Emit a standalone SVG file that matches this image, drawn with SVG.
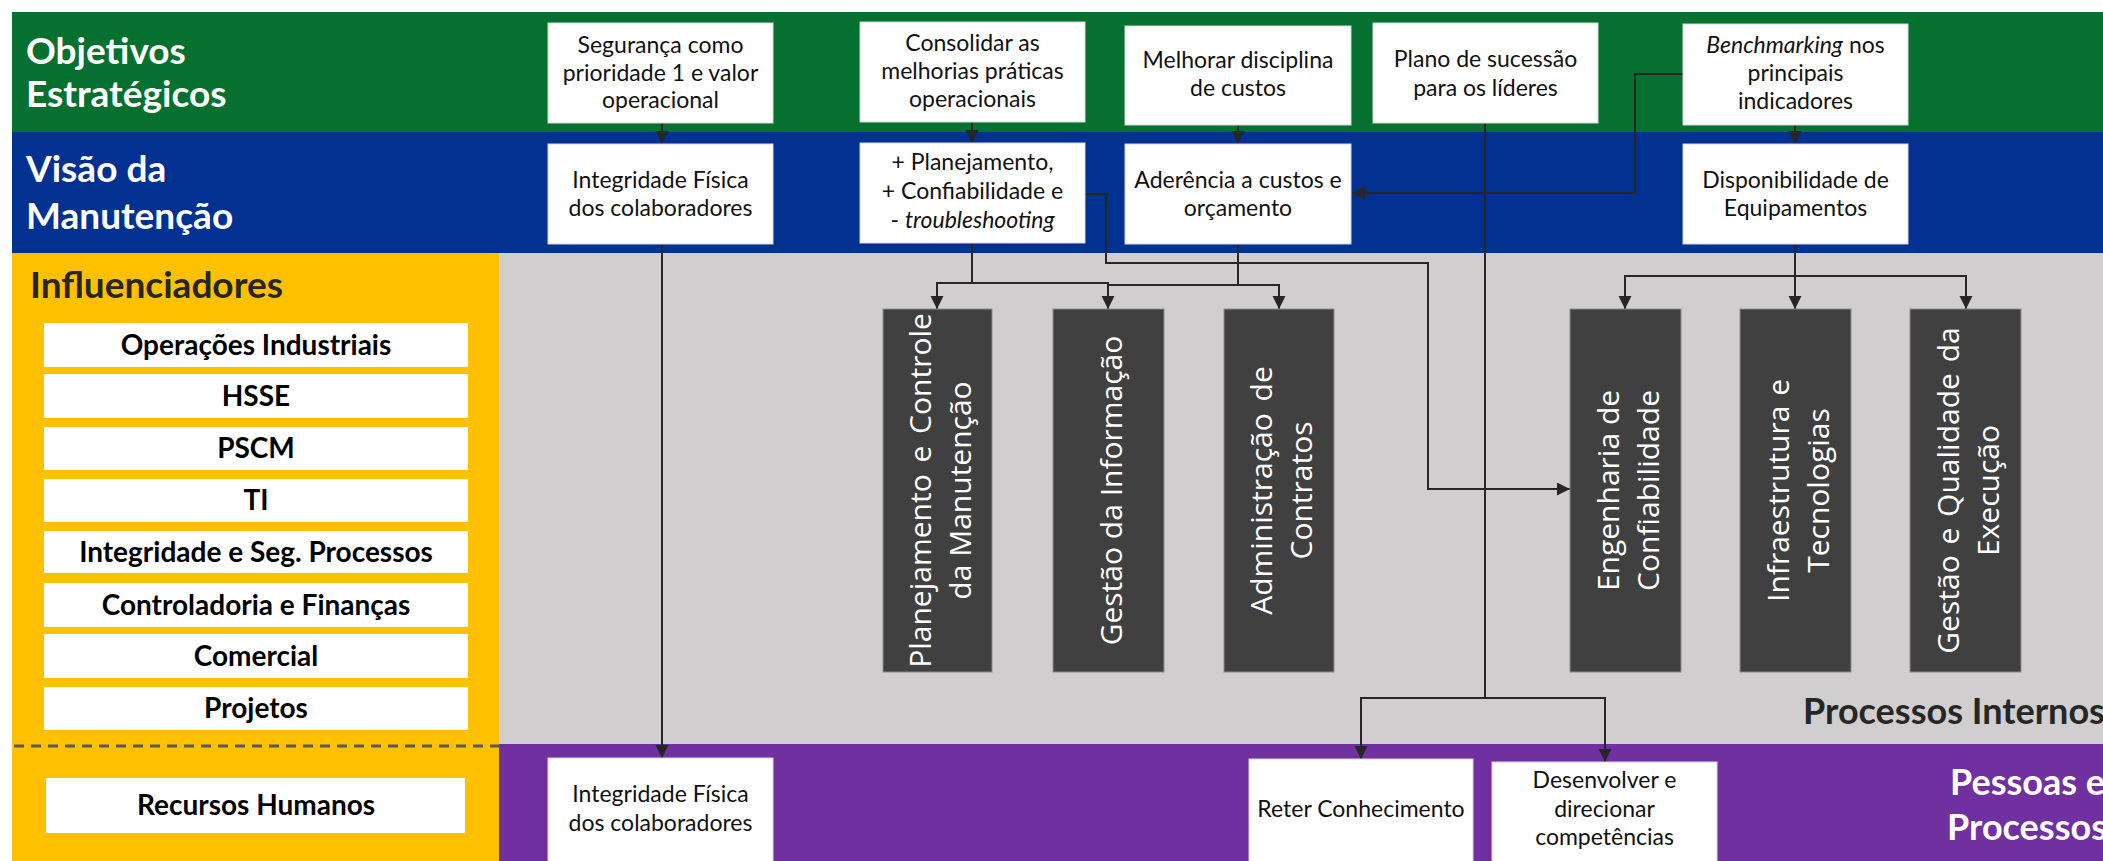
<svg xmlns="http://www.w3.org/2000/svg" width="2103" height="861" viewBox="0 0 2103 861">
<defs>
<marker id="ah" markerUnits="userSpaceOnUse" markerWidth="14" markerHeight="14" refX="13" refY="6.5" orient="auto"><path d="M0,0 L13,6.5 L0,13 z" fill="#262626"/></marker>
<style>
.bx{fill:#fff;stroke:#d6d6d6;stroke-width:1}
.t{font-family:Lato,"Liberation Sans",sans-serif;font-size:23px;fill:#111;text-anchor:middle}
.inf{font-family:Lato,"Liberation Sans",sans-serif;font-weight:700;font-size:28px;fill:#000;text-anchor:middle}
.ttl{font-family:Lato,"Liberation Sans",sans-serif;font-weight:700;font-size:37px;fill:#fff}
.dk{fill:#262626}
.proc{fill:#404040;stroke:#8c8c8c;stroke-width:1}
.pt{font-family:"Open Sans","Noto Sans",sans-serif;font-size:30px;fill:#fff;text-anchor:middle;dominant-baseline:central}
.cn{fill:none;stroke:#262626;stroke-width:2}
.ar{marker-end:url(#ah)}
</style>
</defs>
<rect width="2103" height="861" fill="#fff"/>
<g id="bands">
<rect x="12" y="12" width="2091" height="120" fill="#05702F"/>
<rect x="12" y="132" width="2091" height="121" fill="#023191"/>
<rect x="12" y="253" width="487" height="608" fill="#FFC000"/>
<rect x="499" y="253" width="1604" height="491" fill="#D0CECE"/>
<rect x="499" y="744" width="1604" height="117" fill="#7030A0"/>
<line x1="14" y1="746" x2="499" y2="746" stroke="#595959" stroke-width="3" stroke-dasharray="10,7"/>
<text class="ttl" x="26" y="64">Objetivos</text>
<text class="ttl" x="26" y="107">Estratégicos</text>
<text class="ttl" x="26" y="182">Visão da</text>
<text class="ttl" x="26" y="229">Manutenção</text>
<text class="ttl dk" x="30" y="298">Influenciadores</text>
<text class="ttl dk" x="1803" y="724" style="font-size:36px">Processos Internos</text>
<text class="ttl" x="1950" y="795" style="font-size:36px">Pessoas e</text>
<text class="ttl" x="1947" y="840" style="font-size:36px">Processos</text>
</g>
<g id="influenciadores">
<g id="inf1"><rect x="44" y="323" width="424" height="44" fill="#fff"/><text class="inf" x="256" y="355">Operações Industriais</text></g>
<g id="inf2"><rect x="44" y="374" width="424" height="44" fill="#fff"/><text class="inf" x="256" y="406">HSSE</text></g>
<g id="inf3"><rect x="44" y="427" width="424" height="43" fill="#fff"/><text class="inf" x="256" y="458">PSCM</text></g>
<g id="inf4"><rect x="44" y="479" width="424" height="43" fill="#fff"/><text class="inf" x="256" y="510">TI</text></g>
<g id="inf5"><rect x="44" y="531" width="424" height="42" fill="#fff"/><text class="inf" x="256" y="562">Integridade e Seg. Processos</text></g>
<g id="inf6"><rect x="44" y="583" width="424" height="44" fill="#fff"/><text class="inf" x="256" y="615">Controladoria e Finanças</text></g>
<g id="inf7"><rect x="44" y="634" width="424" height="44" fill="#fff"/><text class="inf" x="256" y="666">Comercial</text></g>
<g id="inf8"><rect x="44" y="687" width="424" height="43" fill="#fff"/><text class="inf" x="256" y="718">Projetos</text></g>
<g id="inf9"><rect x="46" y="778" width="419" height="55" fill="#fff"/><text class="inf" x="256" y="815">Recursos Humanos</text></g>
</g>
<g id="connectors">
<path class="cn ar" d="M662,123 V144"/>
<path class="cn ar" d="M972,122 V143"/>
<path class="cn ar" d="M1238,125 V144"/>
<path class="cn ar" d="M1795,125 V144"/>
<path class="cn ar" d="M1683,74 H1635 V193 H1352"/>
<path class="cn ar" d="M662,244 V758"/>
<path class="cn ar" d="M972,243 V283 H937 V309"/>
<path class="cn ar" d="M972,283 H1108 V309"/>
<path class="cn" d="M1238,244 V285 H1108"/>
<path class="cn ar" d="M1238,285 H1279 V309"/>
<path class="cn ar" d="M1085,194 H1106 V263 H1428 V489 H1570"/>
<path class="cn ar" d="M1485,123 V698 H1361 V759"/>
<path class="cn ar" d="M1485,698 H1605 V762"/>
<path class="cn ar" d="M1795,244 V309"/>
<path class="cn ar" d="M1795,276 H1625 V309"/>
<path class="cn ar" d="M1795,276 H1966 V309"/>
</g>
<g id="obj1"><rect class="bx" x="548" y="23" width="225" height="100"/><text class="t"><tspan x="660.5" y="53">Segurança como</tspan><tspan x="660.5" y="81">prioridade 1 e valor</tspan><tspan x="660.5" y="108">operacional</tspan></text></g>
<g id="obj2"><rect class="bx" x="860" y="22" width="225" height="100"/><text class="t"><tspan x="972.5" y="51">Consolidar as</tspan><tspan x="972.5" y="79">melhorias práticas</tspan><tspan x="972.5" y="107">operacionais</tspan></text></g>
<g id="obj3"><rect class="bx" x="1125" y="26" width="226" height="99"/><text class="t"><tspan x="1238" y="68">Melhorar disciplina</tspan><tspan x="1238" y="96">de custos</tspan></text></g>
<g id="obj4"><rect class="bx" x="1373" y="23" width="225" height="100"/><text class="t"><tspan x="1485.5" y="67">Plano de sucessão</tspan><tspan x="1485.5" y="96">para os líderes</tspan></text></g>
<g id="obj5"><rect class="bx" x="1683" y="24" width="225" height="101"/><text class="t"><tspan x="1795.5" y="53"><tspan font-style="italic">Benchmarking</tspan> nos</tspan><tspan x="1795.5" y="81">principais</tspan><tspan x="1795.5" y="109">indicadores</tspan></text></g>
<g id="vis1"><rect class="bx" x="548" y="144" width="225" height="100"/><text class="t"><tspan x="660.5" y="188">Integridade Física</tspan><tspan x="660.5" y="216">dos colaboradores</tspan></text></g>
<g id="vis2"><rect class="bx" x="860" y="143" width="225" height="100"/><text class="t"><tspan x="972.5" y="170">+ Planejamento,</tspan><tspan x="972.5" y="199">+ Confiabilidade e</tspan><tspan x="972.5" y="228">- <tspan font-style="italic">troubleshooting</tspan></tspan></text></g>
<g id="vis3"><rect class="bx" x="1125" y="144" width="226" height="100"/><text class="t"><tspan x="1238" y="188">Aderência a custos e</tspan><tspan x="1238" y="216">orçamento</tspan></text></g>
<g id="vis4"><rect class="bx" x="1683" y="144" width="225" height="100"/><text class="t"><tspan x="1795.5" y="188">Disponibilidade de</tspan><tspan x="1795.5" y="216">Equipamentos</tspan></text></g>
<g id="p1"><rect class="proc" x="883" y="309" width="109" height="363"/><text class="pt" transform="translate(937.5,490.5) rotate(-90)"><tspan x="0" y="-19" word-spacing="4">Planejamento e Controle</tspan><tspan x="0" y="21">da Manutenção</tspan></text></g>
<g id="p2"><rect class="proc" x="1053" y="309" width="111" height="363"/><text class="pt" transform="translate(1108.5,490.5) rotate(-90)"><tspan x="0" y="1">Gestão da Informação</tspan></text></g>
<g id="p3"><rect class="proc" x="1224" y="309" width="110" height="363"/><text class="pt" transform="translate(1279,490.5) rotate(-90)"><tspan x="0" y="-19" word-spacing="4">Administração de</tspan><tspan x="0" y="21">Contratos</tspan></text></g>
<g id="p4"><rect class="proc" x="1570" y="309" width="111" height="363"/><text class="pt" transform="translate(1625.5,490.5) rotate(-90)"><tspan x="0" y="-19">Engenharia de</tspan><tspan x="0" y="21">Confiabilidade</tspan></text></g>
<g id="p5"><rect class="proc" x="1740" y="309" width="111" height="363"/><text class="pt" transform="translate(1795.5,490.5) rotate(-90)"><tspan x="0" y="-19" word-spacing="2">Infraestrutura e</tspan><tspan x="0" y="21">Tecnologias</tspan></text></g>
<g id="p6"><rect class="proc" x="1910" y="309" width="111" height="363"/><text class="pt" transform="translate(1965.5,490.5) rotate(-90)"><tspan x="0" y="-19" word-spacing="3">Gestão e Qualidade da</tspan><tspan x="0" y="21">Execução</tspan></text></g>
<g id="pp1"><rect class="bx" x="548" y="758" width="225" height="110"/><text class="t"><tspan x="660.5" y="802">Integridade Física</tspan><tspan x="660.5" y="831">dos colaboradores</tspan></text></g>
<g id="pp2"><rect class="bx" x="1249" y="759" width="224" height="110"/><text class="t"><tspan x="1361" y="817">Reter Conhecimento</tspan></text></g>
<g id="pp3"><rect class="bx" x="1492" y="762" width="225" height="110"/><text class="t"><tspan x="1604.5" y="788">Desenvolver e</tspan><tspan x="1604.5" y="817">direcionar</tspan><tspan x="1604.5" y="845">competências</tspan></text></g>
</svg>
